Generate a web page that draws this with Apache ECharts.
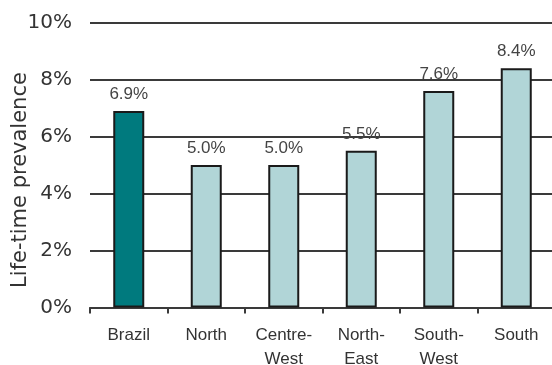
<!DOCTYPE html>
<html>
<head>
<meta charset="utf-8">
<script src="https://cdn.jsdelivr.net/npm/echarts@6/dist/echarts.min.js"></script>
<style>html,body{margin:0;padding:0;background:#fff}#c{width:552px;height:365px}</style>
</head>
<body>
<div id="c"></div>
<script>
var categories = ['Brazil', 'North', 'Centre-\nWest', 'North-\nEast', 'South-\nWest', 'South'];
var values = [6.9, 5.0, 5.0, 5.5, 7.6, 8.4];
var labels = ['6.9%', '5.0%', '5.0%', '5.5%', '7.6%', '8.4%'];
var yTicks = [0, 2, 4, 6, 8, 10];
var yName = 'Life-time prevalence';

var chart = echarts.init(document.getElementById('c'), null, {renderer: 'canvas'});
var data = values.map(function (v, i) {
  return {
    value: v,
    itemStyle: {color: i === 0 ? '#007a7e' : '#b1d5d7'}
  };
});
chart.setOption({
  animation: false,
  grid: {left: 90, top: 22.7, width: 465, bottom: 57.5, containLabel: false, outerBoundsMode: 'none'},
  xAxis: {
    type: 'category',
    data: categories,
    axisLine: {lineStyle: {color: '#3a3a3a', width: 2}},
    axisTick: {show: true, length: 6, lineStyle: {color: '#3a3a3a', width: 2}},
    axisLabel: {
      margin: 16, color: '#333', fontFamily: 'Liberation Sans', fontSize: 17, lineHeight: 24
    }
  },
  yAxis: {
    type: 'value',
    min: yTicks[0], max: yTicks[yTicks.length - 1], interval: 2,
    axisLine: {show: false},
    axisTick: {show: false},
    splitLine: {lineStyle: {color: '#3a3a3a', width: 2}},
    axisLabel: {
      margin: 18, color: '#333', fontFamily: 'DejaVu Sans', fontSize: 20,
      formatter: function (v) { return v + '%'; }
    }
  },
  graphic: [{
    type: 'text',
    x: 21, y: 180,
    rotation: Math.PI / 2,
    style: {
      text: yName,
      fill: '#333',
      font: '21px "DejaVu Sans"',
      textAlign: 'center', textVerticalAlign: 'middle',
      align: 'center', verticalAlign: 'middle'
    }
  }],
  series: [{
    type: 'bar',
    data: data,
    barWidth: 31,
    itemStyle: {borderColor: '#1a1a1a', borderWidth: 2},
    label: {
      show: true, position: 'top', distance: 8,
      color: '#444', fontFamily: 'Liberation Sans', fontSize: 17,
      formatter: function (p) { return labels[p.dataIndex]; }
    }
  }]
});
</script>
</body>
</html>
